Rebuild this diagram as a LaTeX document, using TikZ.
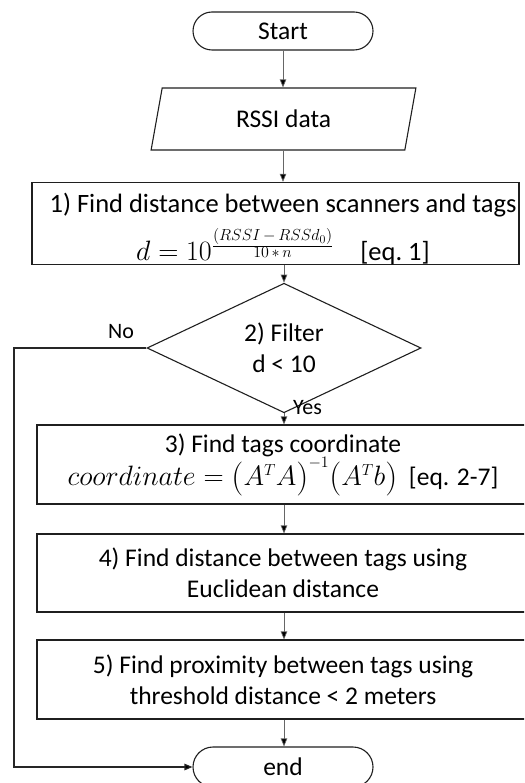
\documentclass[tikz,border=0pt]{standalone}
\usepackage{fix-cm}
\usepackage{amsmath}
\usepackage{fontspec}
\setmainfont{Carlito}
\usetikzlibrary{shapes.geometric,shapes.misc,arrows.meta}
\DeclareMathSizes{28}{28}{16}{12}
\newcommand{\mathbig}{\fontsize{28}{33}\selectfont}
\newcommand{\lparen}{\mathopen{\vcenter{\hbox{\fontsize{34}{34}\selectfont$($}}}}
\newcommand{\rparen}{\mathclose{\vcenter{\hbox{\fontsize{34}{34}\selectfont$)$}}}}
\tikzset{
  base/.style={draw=black!88, line width=1.1pt, font=\fontsize{25.5}{31}\selectfont, align=center, inner sep=0pt},
  term/.style={base, rounded rectangle, minimum width=180pt},
  procbox/.style={base, rectangle},
  iobox/.style={base, trapezium, trapezium left angle=76.4, trapezium right angle=103.6, trapezium stretches=true},
  decide/.style={base, diamond},
  flow/.style={draw=black!60, line width=0.7pt, -{Triangle[length=8pt,width=6.5pt,fill=black]}},
  nolink/.style={draw=black!85, line width=1.1pt, -{Triangle[length=8pt,width=6.5pt,fill=black]}},
  lbl/.style={font=\fontsize{22}{26}\selectfont, inner sep=0pt}
}
\begin{document}
\begin{tikzpicture}[x=1pt,y=-1pt]
\useasboundingbox (0,0) rectangle (524,783);
\clip (0,0) rectangle (524,783);
\node[term, minimum height=38pt] (start) at (283,31) {Start};
\node[iobox, minimum width=265pt, minimum height=62pt] (rssi) at (283.5,119) {RSSI data};
\node[procbox, minimum width=487pt, minimum height=79pt, font=\fontsize{26.5}{31}\selectfont] (b1) at (275.5,223.5)
  {\rule{0pt}{30pt}\hspace*{15pt}1) Find distance between scanners and tags\\[11pt]
   \hspace*{15pt}{\mathbig$d = 10^{\frac{\scriptstyle (RSSI\,-\,RSSd_0)}{\scriptstyle 10\,*\,n}}$}\quad[eq.~1]};
\node[decide, minimum width=274pt, minimum height=100pt] (dia) at (284,348) {2) Filter\\d < 10};
\node[procbox, minimum width=492pt, minimum height=79pt] (b3) at (283,464.5)
  {3) Find tags coordinate\\
   {\mathbig$coordinate = \lparen A^TA\rparen^{-1}\lparen A^Tb\rparen$}\ \ [eq. 2-7]};
\node[procbox, minimum width=492pt, minimum height=78pt] (b4) at (283,573)
  {4) Find distance between tags using\\Euclidean distance};
\node[procbox, minimum width=492pt, minimum height=79pt] (b5) at (283,679.5)
  {5) Find proximity between tags using\\threshold distance < 2 meters};
\node[term, minimum height=40pt] (end) at (283,767) {end};
\coordinate (nocorner) at (14,348);
\draw[flow] (start.south) -- (start.south |- rssi.north);
\draw[flow] (rssi.south -| start.south) -- (start.south |- b1.north);
\draw[flow] (b1.south -| dia.north) -- (dia.north);
\draw[flow] (dia.south) -- (dia.south |- b3.north);
\draw[flow] (b3.south -| dia.south) -- (dia.south |- b4.north);
\draw[flow] (b4.south -| dia.south) -- (dia.south |- b5.north);
\draw[flow] (b5.south -| dia.south) -- (dia.south |- end.north);
\draw[nolink] (dia.west) -- (nocorner) |- (end.west);
\node[lbl] (nolbl) at (121,332) {No};
\node[lbl, anchor=west] (yeslbl) at (293,408) {Yes};
\end{tikzpicture}
\end{document}
